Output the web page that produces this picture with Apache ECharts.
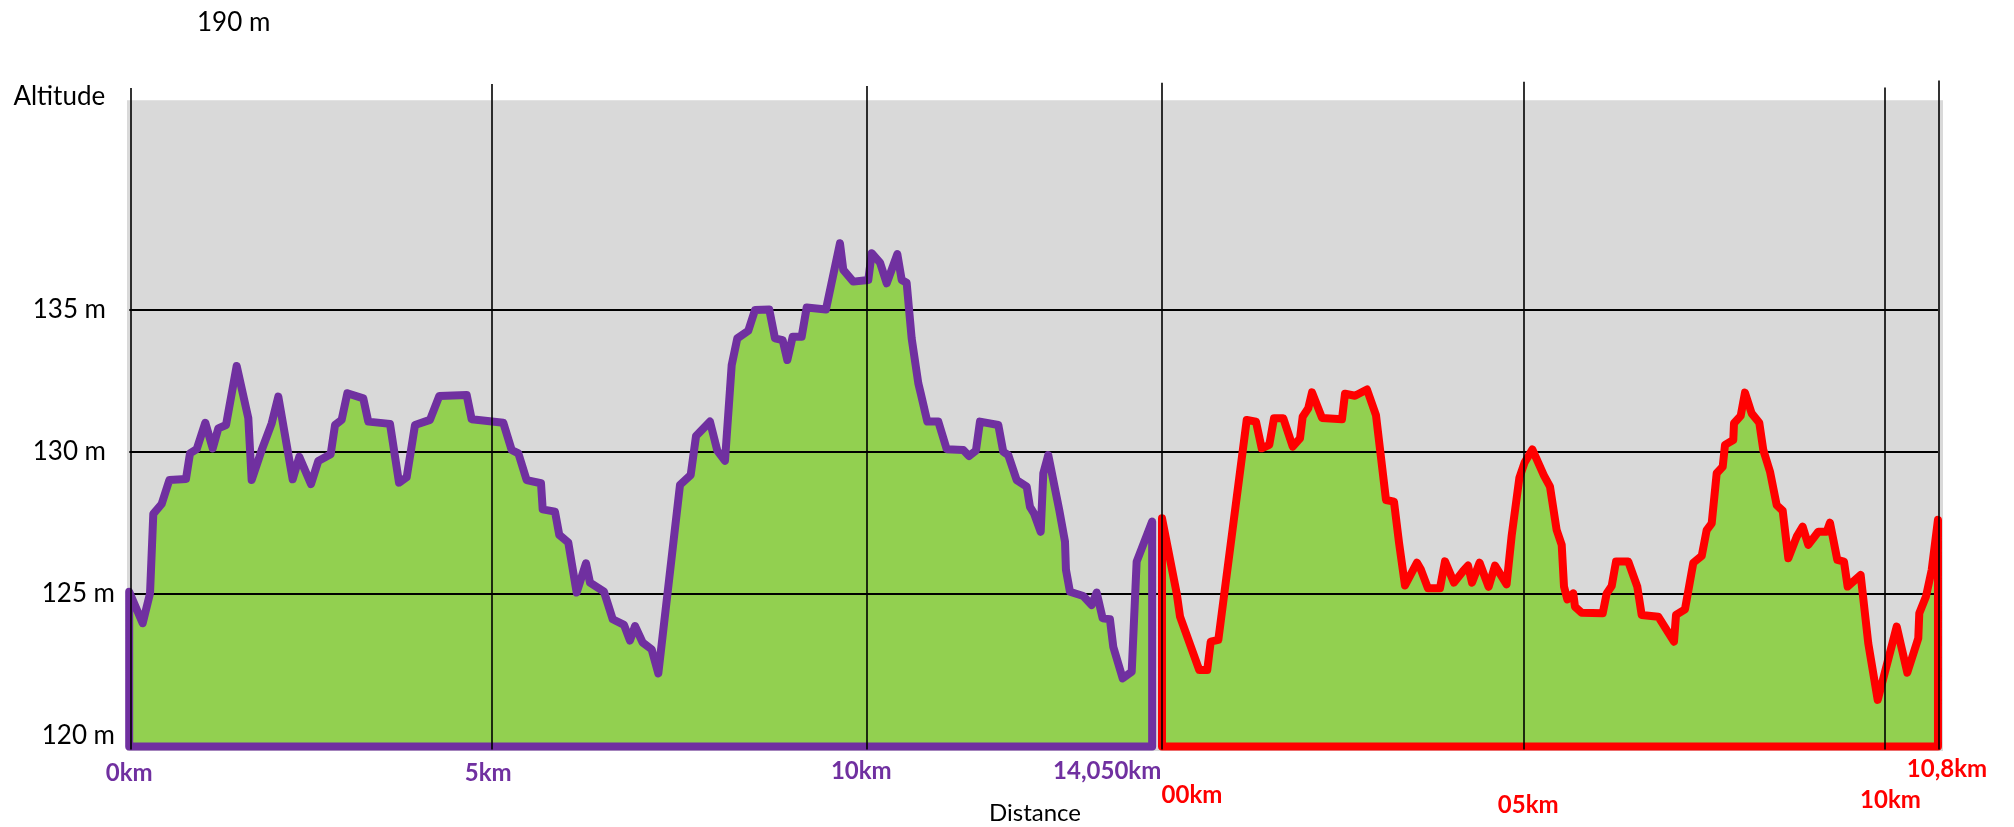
<!DOCTYPE html>
<html><head><meta charset="utf-8">
<script src="https://cdn.jsdelivr.net/npm/echarts@6/dist/echarts.min.js"></script>
<style>html,body{margin:0;padding:0;background:#fff}#c{width:2014px;height:827px}</style>
</head><body><div id="c"></div>
<script>
// ---------------- data ----------------
const PURPLE_KM = [0,0.185,0.286,0.331,0.446,0.551,0.78,0.835,0.927,1.045,1.147,1.224,1.33,1.476,1.636,1.682,1.82,1.957,2.048,2.245,2.336,2.497,2.597,2.767,2.827,2.918,2.996,3.215,3.284,3.582,3.706,3.811,3.925,4.131,4.259,4.635,4.704,5.138,5.253,5.345,5.459,5.656,5.679,5.848,5.907,6.031,6.146,6.274,6.329,6.521,6.641,6.796,6.878,6.947,7.052,7.176,7.267,7.565,7.712,7.785,7.977,8.077,8.183,8.275,8.352,8.503,8.595,8.791,8.87,8.975,9.039,9.113,9.236,9.305,9.57,9.762,9.808,9.945,10.151,10.198,10.312,10.404,10.55,10.61,10.678,10.747,10.838,10.871,10.962,11.113,11.228,11.456,11.534,11.63,11.685,11.937,12.005,12.074,12.189,12.327,12.372,12.427,12.519,12.555,12.623,12.774,12.853,12.866,12.921,13.104,13.219,13.288,13.37,13.47,13.516,13.645,13.769,13.837,14.05];
const PURPLE_ALT = [125.08,123.97,125.02,127.82,128.17,129.01,129.05,129.95,130.10,131.03,130.13,130.83,130.95,133.03,131.19,129.01,130.07,131.01,131.95,129.04,129.83,128.87,129.68,129.92,130.95,131.13,132.07,131.89,131.07,130.99,128.92,129.11,130.95,131.13,131.97,132.01,131.15,131.03,130.07,129.95,129.01,128.90,127.98,127.90,127.08,126.81,125.05,126.08,125.40,125.08,124.11,123.91,123.36,123.87,123.29,123.05,122.2,128.84,129.19,130.56,131.07,130.05,129.69,133.06,134.00,134.27,135.0,135.02,134.00,133.94,133.24,134.06,134.06,135.09,135.02,137.35,136.41,136.00,136.06,137.0,136.67,135.94,136.97,136.06,135.96,134.00,132.42,132.07,131.07,131.07,130.10,130.07,129.86,130.05,131.07,130.95,130.01,129.89,129.01,128.78,128.07,127.84,127.19,129.25,129.89,127.96,126.84,125.85,125.08,124.93,124.61,125.05,124.14,124.11,123.14,122.03,122.26,126.14,127.55];

const RED_KM = [0,0.205,0.251,0.519,0.63,0.678,0.784,1.179,1.308,1.388,1.493,1.559,1.688,1.819,1.921,1.958,2.036,2.088,2.227,2.505,2.547,2.686,2.853,2.978,3.118,3.229,3.299,3.382,3.549,3.605,3.702,3.869,3.939,4.064,4.189,4.259,4.315,4.42,4.546,4.635,4.796,4.867,4.974,5.047,5.154,5.315,5.4,5.493,5.563,5.595,5.641,5.724,5.748,5.841,6.134,6.189,6.259,6.319,6.49,6.615,6.676,6.907,7.126,7.154,7.279,7.395,7.512,7.581,7.651,7.72,7.804,7.836,7.951,7.961,8.054,8.114,8.207,8.313,8.369,8.462,8.555,8.639,8.717,8.834,8.917,8.995,9.134,9.251,9.297,9.399,9.492,9.543,9.724,9.83,9.961,10.063,10.226,10.373,10.526,10.54,10.633,10.713,10.8];
const RED_ALT = [127.67,125.02,124.20,122.32,122.32,123.32,123.38,131.13,131.07,130.13,130.25,131.19,131.19,130.19,130.48,131.24,131.54,132.1,131.2,131.15,132.05,131.98,132.2,131.3,128.31,128.25,126.8,125.3,126.1,125.85,125.2,125.2,126.15,125.4,125.8,126.0,125.4,126.1,125.25,126.0,125.34,127.06,129.09,129.63,130.09,129.18,128.78,127.25,126.73,125.26,124.81,125.02,124.55,124.34,124.32,125.02,125.28,126.14,126.14,125.26,124.26,124.20,123.32,124.26,124.46,126.10,126.34,127.25,127.49,129.25,129.48,130.25,130.42,131.01,131.27,132.09,131.36,131.03,130.07,129.31,128.13,127.93,126.26,127.02,127.37,126.73,127.19,127.19,127.51,126.20,126.14,125.26,125.67,123.26,121.27,122.26,123.85,122.23,123.44,124.32,124.91,125.85,127.61];

const BASE_ALT = 119.63;                 // altitude of the closed profile's bottom edge
const Y_TICKS = [120, 125, 130, 135];
const Y_TICK_LABELS = ['120 m', '125 m', '130 m', '135 m'];
const GRID_ALTS = [125, 130, 135];       // horizontal gridlines
const PURPLE_TICKS = [0, 5, 10, 14.05];
const PURPLE_TICK_LABELS = ['0km', '5km', '10km', '14,050km'];
const RED_TICKS = [0, 5, 10, 10.8];
const RED_TICK_LABELS = ['00km', '05km', '10km', '10,8km'];
const PURPLE_VLINES = [0.025, 4.976, 10.133];      // vertical lines, purple km
const PURPLE_VLINE_TOPS = [142.82, 142.96, 142.89];
const RED_VLINES = [0, 5.038, 10.063, 10.814];     // vertical lines, red km
const RED_VLINE_TOPS = [143.0, 143.04, 142.84, 143.08];

// ---------------- layout / style ----------------
const Y_MIN = 119.47, Y_MAX = 143.10, GRAY_TOP = 142.39, VLINE_BOTTOM = 119.52;
const P_MIN = -0.0302, P_MAX = 24.912;   // purple km axis extent
const R_MIN = -14.405, R_MAX = 10.870;   // red km axis extent
const H_FROM = -14.373;                  // left end of horizontal gridlines (red km)
const FONT = 'Lato';
const PURPLE = '#7030A0', RED = '#FF0000', GREEN = '#92D050', GRAY = '#D9D9D9';
const P_DX = [0, -5, 4, -45], P_DY = [4, 4, 2, 2];
const R_DX = [30, 7, 10, 9], R_DY = [26, 36, 31, 0];

function closed(km, alt) {
  const pts = [[km[0], BASE_ALT]];
  km.forEach((k, i) => pts.push([k, alt[i]]));
  pts.push([km[km.length - 1], BASE_ALT]);
  pts.push([km[0], BASE_ALT]);
  return pts;
}
function pad(dx, dy) { return [dy, dx < 0 ? -2 * dx : 0, 0, dx > 0 ? 2 * dx : 0]; }
function richFor(prefix, color, dxs, dys) {
  const r = {};
  dxs.forEach((dx, i) => { r[prefix + i] = {color: color, fontFamily: FONT, fontWeight: 'bold', fontSize: 24, padding: pad(dx, dys[i])}; });
  return r;
}
const purplePts = closed(PURPLE_KM, PURPLE_ALT);
const redPts = closed(RED_KM, RED_ALT);

const chart = echarts.init(document.getElementById('c'), null, {renderer: 'canvas'});
const noLine = {show: false};
chart.setOption({
  animation: false,
  backgroundColor: '#fff',
  title: {text: '190 m', left: 197, top: 10, padding: 0,
    textStyle: {fontFamily: FONT, fontSize: 26, fontWeight: 'normal', color: '#000'}},
  grid: {left: 127, right: 71, top: 80, bottom: 76, containLabel: false, outerBoundsMode: 'none'},
  xAxis: [
    {type: 'value', min: P_MIN, max: P_MAX, position: 'bottom',
     axisLine: noLine, axisTick: {show: false}, splitLine: noLine,
     name: 'Distance', nameLocation: 'middle', nameGap: 62,
     nameTextStyle: {fontFamily: FONT, fontSize: 24, color: '#000', verticalAlign: 'middle'},
     axisLabel: {customValues: PURPLE_TICKS, margin: 6,
       formatter: v => { const i = PURPLE_TICKS.indexOf(v); return '{p' + i + '|' + PURPLE_TICK_LABELS[i] + '}'; },
       rich: richFor('p', PURPLE, P_DX, P_DY)}},
    {type: 'value', min: R_MIN, max: R_MAX, position: 'bottom',
     axisLine: noLine, axisTick: {show: false}, splitLine: noLine,
     axisLabel: {customValues: RED_TICKS, margin: 6,
       formatter: v => { const i = RED_TICKS.indexOf(v); return '{r' + i + '|' + RED_TICK_LABELS[i] + '}'; },
       rich: richFor('r', RED, R_DX, R_DY)}}
  ],
  yAxis: {type: 'value', min: Y_MIN, max: Y_MAX,
    axisLine: noLine, axisTick: {show: false}, splitLine: noLine,
    name: 'Altitude', nameLocation: 'end', nameGap: -17,
    nameTextStyle: {fontFamily: FONT, fontSize: 26, color: '#000', align: 'right', verticalAlign: 'middle', padding: [0, 24, 0, 0]},
    axisLabel: {customValues: Y_TICKS, margin: 12,
      formatter: v => { const i = Y_TICKS.indexOf(v); return (v >= 130 ? '{a|' : '{b|') + Y_TICK_LABELS[i] + '}'; },
      rich: {a: {fontFamily: FONT, fontSize: 26, color: '#000', padding: [0, 9, 0, 0]},
             b: {fontFamily: FONT, fontSize: 26, color: '#000'}}}},
  series: [
    {type: 'line', data: [], xAxisIndex: 0, silent: true, z: 1,
     markArea: {silent: true, z: 1, itemStyle: {color: GRAY}, data: [[{yAxis: GRAY_TOP}, {yAxis: Y_MIN}]]}},
    {type: 'line', data: purplePts, xAxisIndex: 0, symbol: 'none', silent: true, z: 2,
     lineStyle: {width: 0, opacity: 0}, areaStyle: {color: GREEN, opacity: 1, origin: BASE_ALT}},
    {type: 'line', data: redPts, xAxisIndex: 1, symbol: 'none', silent: true, z: 2,
     lineStyle: {width: 0, opacity: 0}, areaStyle: {color: GREEN, opacity: 1, origin: BASE_ALT}},
    {type: 'line', data: [], xAxisIndex: 1, silent: true, z: 3,
     markLine: {silent: true, z: 3, symbol: ['none', 'none'], label: {show: false},
       lineStyle: {color: '#000', width: 2, type: 'solid'},
       data: GRID_ALTS.map(v => [{coord: [H_FROM, v]}, {coord: [RED_TICKS[3], v]}])}},
    {type: 'line', data: purplePts, xAxisIndex: 0, symbol: 'none', silent: true, z: 4,
     lineStyle: {color: PURPLE, width: 8, join: 'round', cap: 'round'}},
    {type: 'line', data: redPts, xAxisIndex: 1, symbol: 'none', silent: true, z: 4,
     lineStyle: {color: RED, width: 8, join: 'round', cap: 'round'}},
    {type: 'line', data: [], xAxisIndex: 0, silent: true, z: 5,
     markLine: {silent: true, z: 5, symbol: ['none', 'none'], label: {show: false},
       lineStyle: {color: '#000', width: 1.6, type: 'solid'},
       data: PURPLE_VLINES.map((k, i) => [{coord: [k, PURPLE_VLINE_TOPS[i]]}, {coord: [k, VLINE_BOTTOM]}])}},
    {type: 'line', data: [], xAxisIndex: 1, silent: true, z: 5,
     markLine: {silent: true, z: 5, symbol: ['none', 'none'], label: {show: false},
       lineStyle: {color: '#000', width: 1.6, type: 'solid'},
       data: RED_VLINES.map((k, i) => [{coord: [k, RED_VLINE_TOPS[i]]}, {coord: [k, VLINE_BOTTOM]}])}}
  ]
});
</script></body></html>
